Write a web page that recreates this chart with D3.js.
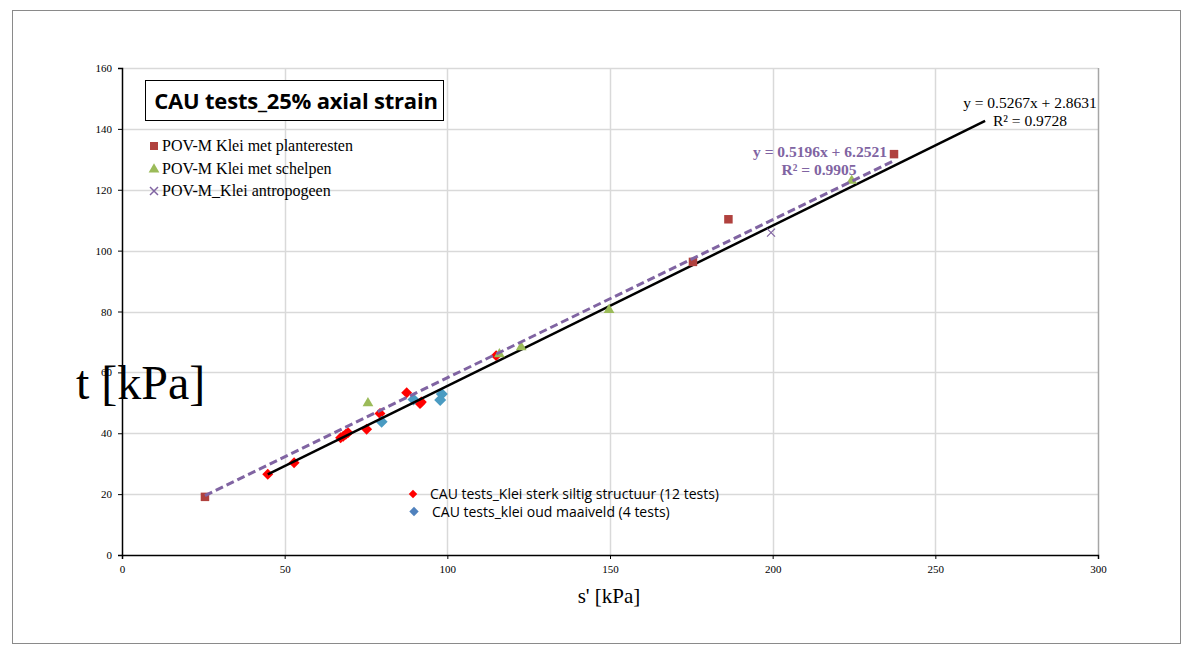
<!DOCTYPE html>
<html>
<head>
<meta charset="utf-8">
<script src="https://cdn.jsdelivr.net/npm/d3@7"></script>
<style>
  body { margin: 0; background: #fff; }
  svg { display: block; }
</style>
</head>
<body>
<svg></svg>
<script>
var width = 1182,
    height = 645;
var svg = d3.select("svg")
    .attr("width", width)
    .attr("height", height);

// data: [s', t]
var planteresten = [[25.5, 19.1], [175.5, 96.3], [186.4, 110.3], [237.3, 131.7]];
var schelpen = [[75.6, 49.9], [116, 66], [122.7, 68.3], [149.7, 80.5], [224.3, 123]];
var antropogeen = [[199.5, 105.9]];
var siltig = [[44.8, 26.5], [52.9, 30.3], [67.2, 38.5], [68.0, 39.0], [68.8, 39.7], [69.5, 40.2],
              [75.2, 41.3], [79.3, 46.5], [87.5, 53.3], [91.6, 49.8], [115, 65.5], [92.0, 50.3]];
var maaiveld = [[79.8, 43.8], [89.6, 51.1], [98.3, 52.9], [97.8, 50.9]];

var xTicks = [0, 50, 100, 150, 200, 250, 300];
var yTicks = [0, 20, 40, 60, 80, 100, 120, 140, 160];

// trendlines: slope, intercept, x range
var fitAll = {a: 0.5267, b: 2.8631, x0: 44.8, x1: 265.3, label: "y = 0.5267x + 2.8631", r2: "R² = 0.9728"};
var fitPov = {a: 0.5196, b: 6.2521, x0: 25.5, x1: 237.3, label: "y = 0.5196x + 6.2521", r2: "R² = 0.9905"};

var legendTop = ["POV-M Klei met planteresten", "POV-M Klei met schelpen", "POV-M_Klei antropogeen"];
var legendBottom = ["CAU tests_Klei sterk siltig structuur (12 tests)", "CAU tests_klei oud maaiveld (4 tests)"];

var colors = {
    square: "#b0413e",
    triangle: "#9bbb59",
    cross: "#8064a2",
    red: "#ff0000",
    blue: "#4a9bc2",
    blueLegend: "#4f81bd"
};
var serif = "Liberation Serif, Times New Roman, serif";
var sans = "Open Sans, Liberation Sans, sans-serif";

// outer frame
svg.append("rect")
    .attr("x", 12.5).attr("y", 10.5)
    .attr("width", 1168).attr("height", 633)
    .attr("fill", "none")
    .attr("stroke", "#8a8a8a");

var x = d3.scaleLinear().domain([0, 300]).range([122, 1098]);
var y = d3.scaleLinear().domain([0, 160]).range([555, 68]);

// grid
svg.append("g").selectAll("line")
    .data(yTicks.slice(1))
    .enter().append("line")
    .attr("x1", x(0)).attr("x2", x(300))
    .attr("y1", d => Math.round(y(d)) + 0.5).attr("y2", d => Math.round(y(d)) + 0.5)
    .attr("stroke", "#d9d9d9").attr("stroke-width", 1.5);
svg.append("g").selectAll("line")
    .data(xTicks.slice(1))
    .enter().append("line")
    .attr("y1", y(0)).attr("y2", y(160))
    .attr("x1", d => Math.round(x(d)) + 0.5).attr("x2", d => Math.round(x(d)) + 0.5)
    .attr("stroke", d => d == 300 ? "#a6a6a6" : "#d9d9d9").attr("stroke-width", 1.5);

// axis titles (y title sits behind the axis line, as in the original)
svg.append("text")
    .attr("x", 609).attr("y", 603)
    .attr("text-anchor", "middle")
    .attr("font-family", serif)
    .attr("font-size", 21)
    .text("s' [kPa]");
svg.append("text")
    .attr("x", 76).attr("y", 399)
    .attr("font-family", serif)
    .attr("font-size", 48)
    .text("t [kPa]");

// axes
var xAxis = d3.axisBottom(x).tickValues(xTicks).tickSize(4).tickPadding(6);
var yAxis = d3.axisLeft(y).tickValues(yTicks).tickSize(4).tickPadding(6);
svg.append("g").attr("transform", "translate(0," + y(0) + ")").call(xAxis)
    .call(g => g.select(".domain").attr("stroke-width", 1.5));
svg.append("g").attr("transform", "translate(" + x(0) + ",0)").call(yAxis)
    .call(g => g.select(".domain").attr("stroke-width", 1.5));
svg.selectAll(".tick text")
    .attr("font-family", serif)
    .attr("font-size", 11)
    .attr("fill", "#000");

// trendlines
function drawFit(f, stroke, width, dash) {
    svg.append("line")
        .attr("x1", x(f.x0)).attr("y1", y(f.a * f.x0 + f.b))
        .attr("x2", x(f.x1)).attr("y2", y(f.a * f.x1 + f.b))
        .attr("stroke", stroke)
        .attr("stroke-width", width)
        .attr("stroke-dasharray", dash);
}

// markers
var sq = d3.symbol().type(d3.symbolSquare);
function drawPoints(data, path, fill, rot) {
    svg.append("g").selectAll("path")
        .data(data)
        .enter().append("path")
        .attr("d", path)
        .attr("transform", d => "translate(" + x(d[0]) + "," + y(d[1]) + ") rotate(" + (rot || 0) + ")")
        .attr("fill", fill);
}

drawPoints(siltig, sq.size(60)(), colors.red, 45);
drawPoints(maaiveld, sq.size(72)(), colors.blue, 45);
drawFit(fitAll, "#000", 2.5, null);
drawPoints(planteresten, sq.size(72)(), colors.square);
drawPoints(schelpen, d3.symbol().type(d3.symbolTriangle).size(50)(), colors.triangle);
svg.append("g").selectAll("path")
    .data(antropogeen)
    .enter().append("path")
    .attr("d", "M-4,-4L4,4M-4,4L4,-4")
    .attr("transform", d => "translate(" + x(d[0]) + "," + y(d[1]) + ")")
    .attr("stroke", colors.cross).attr("stroke-width", 1.2);
drawFit(fitPov, colors.cross, 3, "8,4");

// fit labels
svg.append("text").attr("x", 1030).attr("y", 108).attr("text-anchor", "middle")
    .attr("font-family", serif).attr("font-size", 15.5).text(fitAll.label);
svg.append("text").attr("x", 1030).attr("y", 125.5).attr("text-anchor", "middle")
    .attr("font-family", serif).attr("font-size", 15.5).text(fitAll.r2);
svg.append("text").attr("x", 820).attr("y", 157).attr("text-anchor", "middle")
    .attr("font-family", serif).attr("font-size", 15.5).attr("font-weight", "bold")
    .attr("fill", colors.cross).text(fitPov.label);
svg.append("text").attr("x", 819).attr("y", 174.5).attr("text-anchor", "middle")
    .attr("font-family", serif).attr("font-size", 15.5).attr("font-weight", "bold")
    .attr("fill", colors.cross).text(fitPov.r2);

// title box
svg.append("rect")
    .attr("x", 145.5).attr("y", 80.5).attr("width", 298).attr("height", 40)
    .attr("fill", "#fff").attr("stroke", "#000").attr("stroke-width", 1);
svg.append("text")
    .attr("x", 296).attr("y", 109).attr("text-anchor", "middle")
    .attr("font-family", sans)
    .attr("font-weight", "bold").attr("font-size", 22)
    .attr("letter-spacing", -0.2)
    .text("CAU tests_25% axial strain");

// top-left legend
var lt = svg.append("g");
legendTop.forEach(function (t, i) {
    var ly = 146 + i * 22.5;
    if (i == 0) lt.append("path").attr("d", sq.size(64)()).attr("transform", "translate(154," + ly + ")").attr("fill", colors.square);
    if (i == 1) lt.append("path").attr("d", d3.symbol().type(d3.symbolTriangle).size(50)()).attr("transform", "translate(154," + (ly + 1) + ")").attr("fill", colors.triangle);
    if (i == 2) lt.append("path").attr("d", "M-4,-4L4,4M-4,4L4,-4").attr("transform", "translate(154," + ly + ")").attr("stroke", colors.cross).attr("stroke-width", 1.5);
    lt.append("text").attr("x", 162).attr("y", ly + 5)
        .attr("font-family", serif).attr("font-size", 16).text(t);
});

// bottom legend
var lb = svg.append("g");
legendBottom.forEach(function (t, i) {
    var ly = 494 + i * 17.5;
    lb.append("path").attr("d", sq.size(i == 0 ? 36 : 44)())
        .attr("transform", "translate(" + (i == 0 ? 413 : 414) + "," + ly + ") rotate(45)")
        .attr("fill", i == 0 ? colors.red : colors.blueLegend);
    lb.append("text").attr("x", i == 0 ? 430 : 432).attr("y", ly + 5)
        .attr("font-family", sans).attr("font-size", 14)
        .text(t);
});
</script>
</body>
</html>
